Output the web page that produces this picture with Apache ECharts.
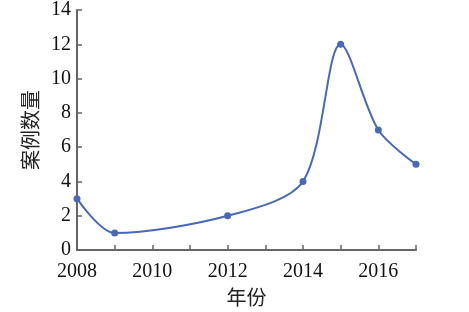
<!DOCTYPE html>
<html><head><meta charset="utf-8">
<script src="https://cdn.jsdelivr.net/npm/echarts@6/dist/echarts.min.js"></script>
<style>html,body{margin:0;padding:0;background:#fff}#c{width:469px;height:312px}</style>
</head><body><div id="c"></div>
<script>
var years = [2008, 2009, 2012, 2014, 2015, 2016, 2017];
var counts = [3, 1, 2, 4, 12, 7, 5];
var xName = '年份';
var yName = '案例数量';
var serif = '"Liberation Serif","DejaVu Serif",serif';
var cjk = '"Noto Sans CJK SC",serif';
var chart = echarts.init(document.getElementById('c'));
chart.setOption({
  animation: false,
  grid: {left: 77, right: 53, top: 10, bottom: 61},
  xAxis: {
    type: 'value', min: 2008, max: 2017, interval: 1,
    name: xName, nameLocation: 'middle', nameGap: 36,
    nameTextStyle: {fontFamily: cjk, fontSize: 20, color: '#222'},
    axisLine: {lineStyle: {color: '#666', width: 2}},
    axisTick: {inside: true, length: 5, lineStyle: {color: '#666', width: 1.5}},
    splitLine: {show: false},
    axisLabel: {fontFamily: serif, fontSize: 20, color: '#111', margin: 12,
      formatter: function (v) { return v % 2 === 0 ? String(v) : ''; }}
  },
  yAxis: {
    type: 'value', min: 0, max: 14, interval: 2,
    name: yName, nameLocation: 'middle', nameGap: 36,
    nameTextStyle: {fontFamily: cjk, fontSize: 20, color: '#222'},
    axisLine: {show: true, lineStyle: {color: '#666', width: 2}},
    axisTick: {show: true, inside: true, length: 5, lineStyle: {color: '#666', width: 1.5}},
    splitLine: {show: false},
    axisLabel: {fontFamily: serif, fontSize: 20, color: '#111', margin: 6}
  },
  series: [{
    type: 'line', smooth: 0.3, smoothConstraint: false,
    data: years.map(function (y, i) { return [y, counts[i]]; }),
    symbol: 'circle', symbolSize: 7,
    lineStyle: {color: '#4868b8', width: 2},
    itemStyle: {color: '#4868b8'}
  }]
});
</script></body></html>
